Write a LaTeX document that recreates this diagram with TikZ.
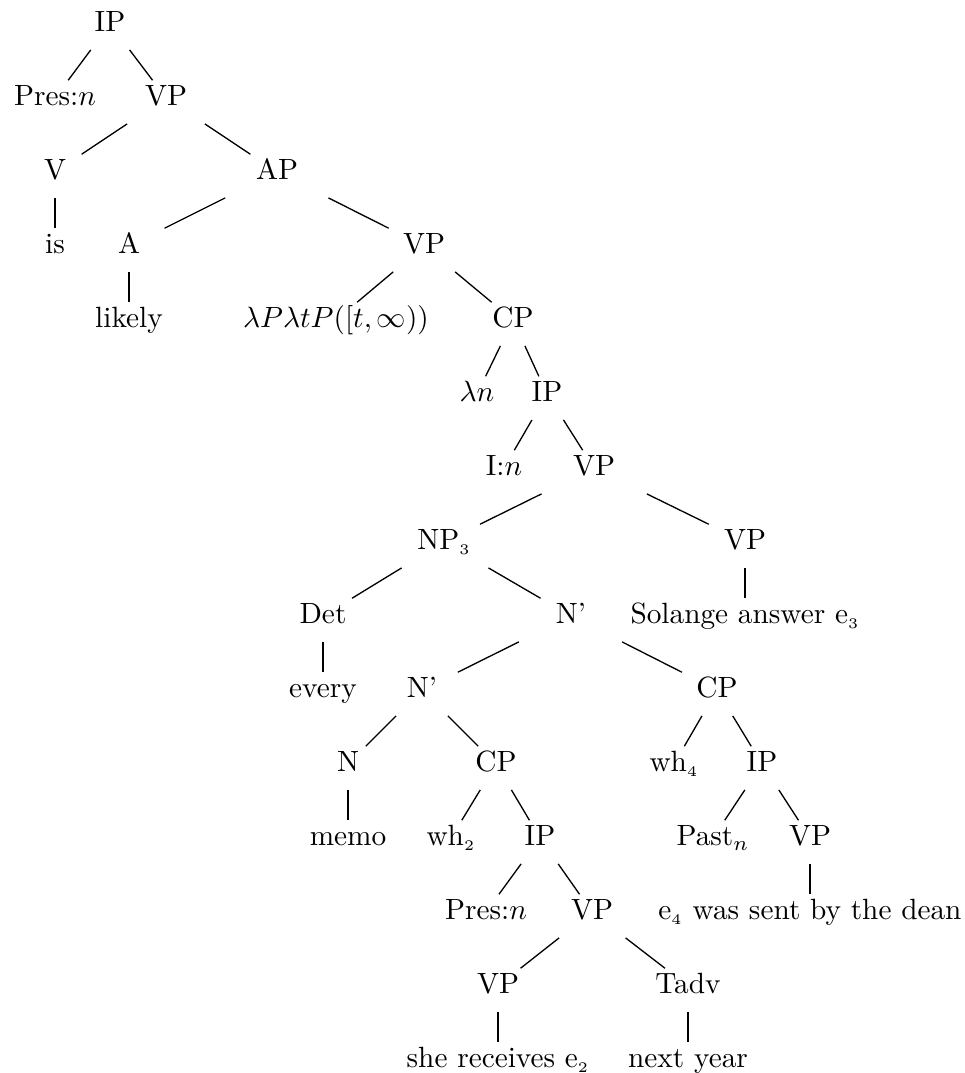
\documentclass[tikz,border=0pt]{standalone}
\usetikzlibrary{calc}

\tikzset{
  cat/.style={inner sep=0pt, text height=1.5ex, text depth=.25ex},
  branch/.style={line width=0.45pt},
  stem/.style={line width=0.8pt},
}
% a slanted branch and a straight stem between two named nodes
\newcommand{\treebranch}[2]{\draw[branch] ($(#1)!0.35!(#2)$) -- ($(#1)!0.76!(#2)$);}
\newcommand{\treestem}[2]{\draw[stem] ($(#1)!0.35!(#2)$) -- ($(#1)!0.76!(#2)$);}

\begin{document}
\begin{tikzpicture}[x=0.3413pt, y=-0.3413pt]
    % Page frame
    \useasboundingbox (0,0) rectangle (964,1073);

    % Upper spine
    \node[cat] (ip0) at (110, 24) {IP};
    \node[cat] (pres0) at (55, 98) {Pres:$n$};
    \node[cat] (vp1) at (166, 98) {VP};
    \node[cat] (v) at (55, 172) {V};
    \node[cat] (ap) at (277, 172) {AP};
    \node[cat] (is) at (55, 246) {is};
    \node[cat] (a) at (129, 246) {A};
    \node[cat] (vp3) at (424, 246) {VP};
    \node[cat] (likely) at (129, 320) {likely};
    \node[cat] (lam) at (336, 320) {$\lambda P\lambda tP([t,\infty))$};
    \node[cat] (cp4) at (513, 320) {CP};
    \node[cat] (lamn) at (477, 394) {$\lambda n$};
    \node[cat] (ip5) at (547, 394) {IP};
    \node[cat] (in) at (504, 468) {I:$n$};
    \node[cat] (vp6) at (594, 468) {VP};

    % -- subject and main VP
    \node[cat] (np) at (444, 542) {NP$_{\scriptscriptstyle 3}$};
    \node[cat] (vp7) at (745, 542) {VP};
    \node[cat] (det) at (323, 616) {Det};
    \node[cat] (nbar8) at (571, 616) {N'};
    \node[cat] (solange) at (745, 616) {Solange answer e$_{\scriptscriptstyle 3}$};
    \node[cat] (every) at (323, 690) {every};
    \node[cat] (nbar9) at (422, 690) {N'};
    \node[cat] (cp9) at (717, 690) {CP};

    % -- relative clauses
    \node[cat] (n) at (348, 764) {N};
    \node[cat] (cp10) at (496, 764) {CP};
    \node[cat] (wh4) at (674, 764) {wh$_{\scriptscriptstyle 4}$};
    \node[cat] (ip10) at (762, 764) {IP};
    \node[cat] (memo) at (348, 838) {memo};
    \node[cat] (wh2) at (451, 838) {wh$_{\scriptscriptstyle 2}$};
    \node[cat] (ip11) at (540, 838) {IP};
    \node[cat] (past) at (713, 838) {Past$_n$};
    \node[cat] (vp11) at (810, 838) {VP};
    \node[cat] (pres12) at (486, 912) {Pres:$n$};
    \node[cat] (vp12) at (592, 912) {VP};
    \node[cat] (sent) at (810, 912) {e$_{\scriptscriptstyle 4}$ was sent by the dean};
    \node[cat] (vp13) at (498, 986) {VP};
    \node[cat] (tadv) at (688, 986) {Tadv};
    \node[cat] (she) at (498, 1060) {she receives e$_{\scriptscriptstyle 2}$};
    \node[cat] (next) at (688, 1060) {next year};

    % Branches
    \treebranch{ip0}{pres0}
    \treebranch{ip0}{vp1}
    \treebranch{vp1}{v}
    \treebranch{vp1}{ap}
    \treestem{v}{is}
    \treebranch{ap}{a}
    \treebranch{ap}{vp3}
    \treestem{a}{likely}
    \treebranch{vp3}{lam}
    \treebranch{vp3}{cp4}
    \treebranch{cp4}{lamn}
    \treebranch{cp4}{ip5}
    \treebranch{ip5}{in}
    \treebranch{ip5}{vp6}
    \treebranch{vp6}{np}
    \treebranch{vp6}{vp7}
    \treebranch{np}{det}
    \treebranch{np}{nbar8}
    \treestem{vp7}{solange}
    \treestem{det}{every}
    \treebranch{nbar8}{nbar9}
    \treebranch{nbar8}{cp9}
    \treebranch{nbar9}{n}
    \treebranch{nbar9}{cp10}
    \treebranch{cp9}{wh4}
    \treebranch{cp9}{ip10}
    \treestem{n}{memo}
    \treebranch{cp10}{wh2}
    \treebranch{cp10}{ip11}
    \treebranch{ip10}{past}
    \treebranch{ip10}{vp11}
    \treebranch{ip11}{pres12}
    \treebranch{ip11}{vp12}
    \treestem{vp11}{sent}
    \treebranch{vp12}{vp13}
    \treebranch{vp12}{tadv}
    \treestem{vp13}{she}
    \treestem{tadv}{next}
\end{tikzpicture}
\end{document}
